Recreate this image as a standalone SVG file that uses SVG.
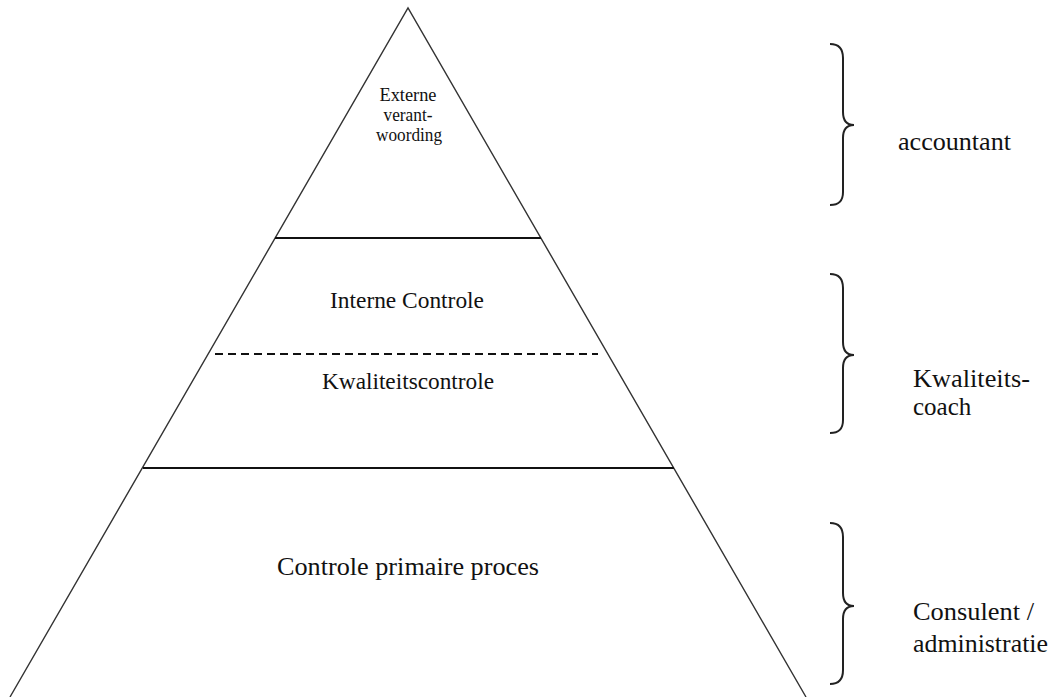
<svg xmlns="http://www.w3.org/2000/svg" width="1052" height="697" viewBox="0 0 1052 697" font-family="'Liberation Serif', 'DejaVu Serif', 'Times New Roman', serif">
<style>
  text { font-family: "Liberation Serif", "DejaVu Serif", "Times New Roman", serif; fill: #111; }
  .side { stroke: #333; stroke-width: 1.4; fill: none; }
  .sep { stroke: #111; stroke-width: 2; fill: none; }
  .dash { stroke: #111; stroke-width: 2; stroke-dasharray: 8 5; fill: none; }
  .brace { stroke: #222; stroke-width: 2; fill: none; }
  .small { font-size: 18.5px; }
  .mid { font-size: 22.5px; }
  .big { font-size: 25px; }
</style>
<rect width="1052" height="697" fill="#fff"/>
<g id="pyramid">
  <path class="side" d="M10,697 L408,8 L806,697"/>
</g>
<g id="connectors">
  <line class="sep" x1="275" y1="238" x2="541" y2="238"/>
  <line class="dash" x1="215" y1="354" x2="598" y2="354"/>
  <line class="sep" x1="143" y1="468" x2="674" y2="468"/>
</g>
<g id="node-externe">
  <text class="small" x="408" y="101" text-anchor="middle" textLength="57" lengthAdjust="spacingAndGlyphs">Externe</text>
  <text class="small" x="408" y="121" text-anchor="middle" textLength="49" lengthAdjust="spacingAndGlyphs">verant-</text>
  <text class="small" x="409" y="141" text-anchor="middle" textLength="66" lengthAdjust="spacingAndGlyphs">woording</text>
</g>
<g id="node-interne">
  <text class="mid" x="407" y="308" text-anchor="middle" textLength="154" lengthAdjust="spacingAndGlyphs">Interne Controle</text>
</g>
<g id="node-kwaliteit">
  <text class="mid" x="408" y="389" text-anchor="middle" textLength="172" lengthAdjust="spacingAndGlyphs">Kwaliteitscontrole</text>
</g>
<g id="node-primair">
  <text class="big" x="408" y="575" text-anchor="middle" textLength="262" lengthAdjust="spacingAndGlyphs">Controle primaire proces</text>
</g>
<g id="brace-accountant">
  <path class="brace" d="M830,44 C840,44 843,50 843,58 L843,112 C843,120 846,125 854,125 C846,125 843,130 843,138 L843,192 C843,200 840,205 830,205"/>
  <text class="big" x="898" y="150" textLength="113" lengthAdjust="spacingAndGlyphs">accountant</text>
</g>
<g id="brace-coach">
  <path class="brace" d="M830,274 C840,274 843,280 843,288 L843,342 C843,350 846,355 854,355 C846,355 843,360 843,368 L843,420 C843,428 840,433 830,433"/>
  <text class="big" x="913" y="387" textLength="117" lengthAdjust="spacingAndGlyphs">Kwaliteits-</text>
  <text class="big" x="913" y="415">coach</text>
</g>
<g id="brace-consulent">
  <path class="brace" d="M830,523 C840,523 843,529 843,537 L843,593 C843,601 846,606 854,606 C846,606 843,611 843,619 L843,670 C843,678 840,684 830,684"/>
  <text class="big" x="913" y="620" textLength="121" lengthAdjust="spacingAndGlyphs">Consulent /</text>
  <text class="big" x="913" y="652" textLength="135" lengthAdjust="spacingAndGlyphs">administratie</text>
</g>
</svg>
